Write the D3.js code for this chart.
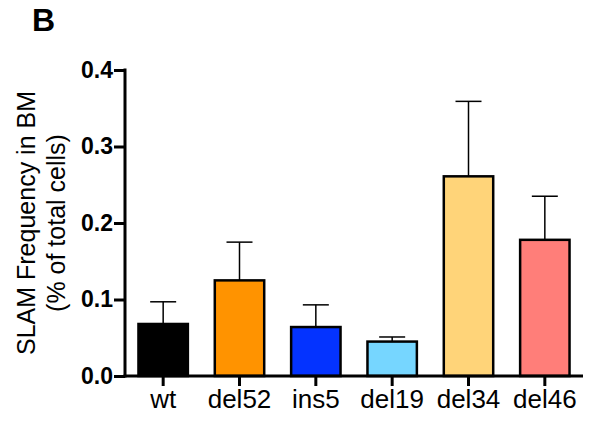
<!DOCTYPE html>
<html>
<head>
<meta charset="utf-8">
<script src="https://cdn.jsdelivr.net/npm/d3@7"></script>
<style>
  body { margin: 0; background: #fff; }
  svg { display: block; font-family: "Liberation Sans", Arial, sans-serif; }
</style>
</head>
<body>
<svg id="chart" width="592" height="424"></svg>
<script>
const width = 592;
const height = 424;

// Data
const groups = ["wt", "del52", "ins5", "del19", "del34", "del46"];
const means = [0.068, 0.125, 0.064, 0.045, 0.261, 0.178];
const errors = [0.029, 0.050, 0.029, 0.006, 0.098, 0.057];
const colors = ["#000000", "#FF9300", "#0433FF", "#76D6FF", "#FFD479", "#FF7E79"];
const yTicks = [0, 0.1, 0.2, 0.3, 0.4];

const svg = d3.select("#chart");

// Scales
const x = d3.scaleBand()
  .domain(groups)
  .range([125, 583])
  .paddingInner(0.32)
  .paddingOuter(0.16);

const y = d3.scaleLinear()
  .domain([0, 0.4])
  .range([376, 70]);

// Panel letter
svg.append("text")
  .attr("x", 32)
  .attr("y", 31)
  .attr("font-size", 32)
  .attr("font-weight", "bold")
  .text("B");

// Error bars (upper only), drawn under the bars
const err = svg.append("g")
  .attr("stroke", "#000")
  .attr("stroke-width", 1.5);

groups.forEach((g, i) => {
  const cx = x(g) + x.bandwidth() / 2;
  err.append("line")
    .attr("x1", cx).attr("x2", cx)
    .attr("y1", y(means[i])).attr("y2", y(means[i] + errors[i]));
  err.append("line")
    .attr("x1", cx - 13).attr("x2", cx + 13)
    .attr("y1", y(means[i] + errors[i])).attr("y2", y(means[i] + errors[i]));
});

// Bars
svg.append("g")
  .selectAll("rect")
  .data(groups)
  .join("rect")
  .attr("x", d => x(d) + 1.25)
  .attr("width", x.bandwidth() - 2.5)
  .attr("y", (d, i) => y(means[i]))
  .attr("height", (d, i) => y(0) - y(means[i]))
  .attr("fill", (d, i) => colors[i])
  .attr("stroke", "#000")
  .attr("stroke-width", 2.5);

// Y axis
const yAxis = svg.append("g")
  .attr("transform", "translate(125,0)")
  .call(d3.axisLeft(y).tickValues(yTicks).tickFormat(d3.format(".1f")).tickSize(11).tickPadding(1));
yAxis.select(".domain")
  .attr("d", `M0,${y(0.4) - 1.5}V${y(0) + 1.5}`)
  .attr("stroke-width", 3);
yAxis.selectAll(".tick line").attr("stroke-width", 3);
yAxis.selectAll(".tick text")
  .attr("font-size", 23)
  .attr("font-weight", "bold")
  .attr("font-family", "'Liberation Sans', Arial, sans-serif")
  .attr("fill", "#000");

// X axis
const xAxis = svg.append("g")
  .attr("transform", `translate(0,${y(0)})`)
  .call(d3.axisBottom(x).tickSize(10).tickPadding(4));
xAxis.select(".domain")
  .attr("d", "M123.5,0H583")
  .attr("stroke-width", 3);
xAxis.selectAll(".tick line").attr("stroke-width", 3);
xAxis.selectAll(".tick text")
  .attr("font-size", 26)
  .attr("font-family", "'Liberation Sans', Arial, sans-serif")
  .attr("fill", "#000");

// Y axis title
const yTitle = svg.append("text")
  .attr("transform", `translate(0,${(y(0) + y(0.4)) / 2}) rotate(-90)`)
  .attr("text-anchor", "middle")
  .attr("font-size", 25);
yTitle.append("tspan").attr("x", 0).attr("y", 35).text("SLAM Frequency in BM");
yTitle.append("tspan").attr("x", 0).attr("y", 65).text("(% of total cells)");
</script>
</body>
</html>
